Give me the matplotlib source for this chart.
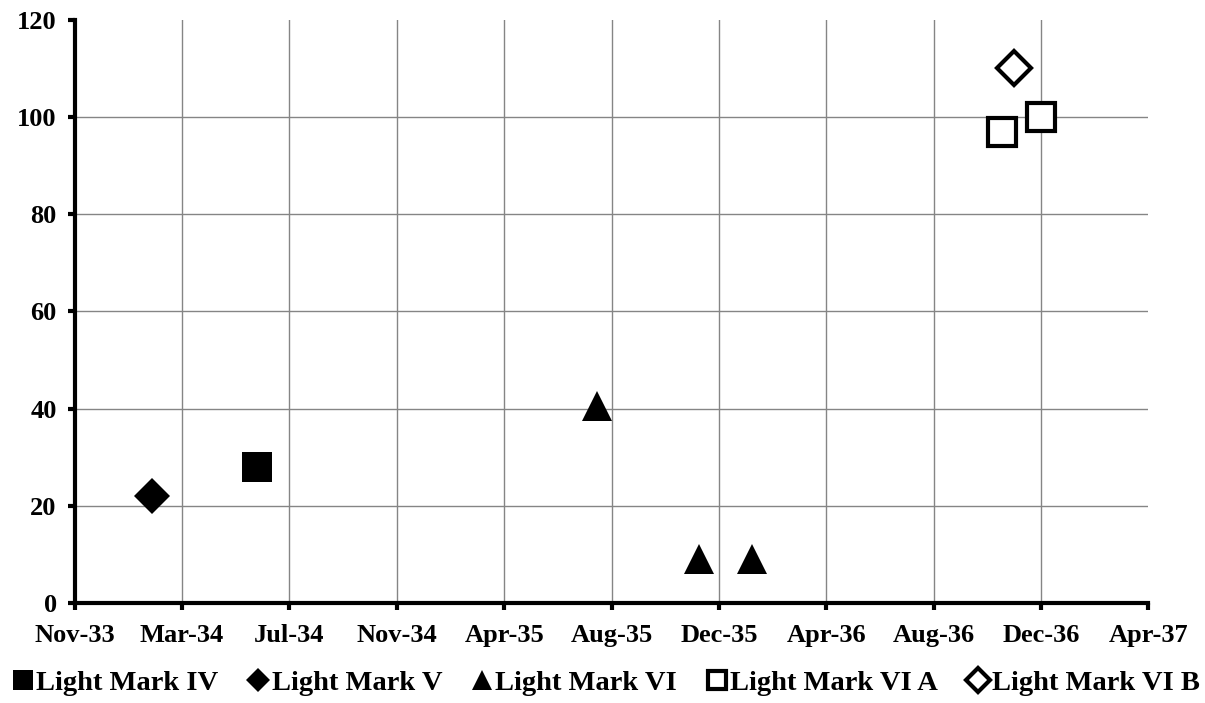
import datetime as dt

import matplotlib
matplotlib.use("Agg")
import matplotlib.pyplot as plt
import matplotlib.dates as mdates

# ------------------- data -------------------
mark_iv_dates = [dt.date(1934, 6, 20)]
mark_iv_vals = [28]

mark_v_dates = [dt.date(1934, 2, 18)]
mark_v_vals = [22]

mark_vi_dates = [dt.date(1935, 7, 21), dt.date(1935, 11, 17), dt.date(1936, 1, 17)]
mark_vi_vals = [40.5, 9, 9]

mark_via_dates = [dt.date(1936, 11, 4), dt.date(1936, 12, 19)]
mark_via_vals = [97, 100]

mark_vib_dates = [dt.date(1936, 11, 18)]
mark_vib_vals = [110]

# date axis: 125-day major unit starting Nov 1933
axis_start = dt.date(1933, 11, 20)
axis_step_days = 125
n_steps = 10

plt.rcParams['font.family'] = ['Liberation Serif', 'DejaVu Serif']
plt.rcParams['font.weight'] = 'bold'

fig = plt.figure(figsize=(12.05, 7.03), dpi=100)
ax = fig.add_axes([0.062, 0.142, 0.891, 0.830])

series = [
    ("Light Mark IV", mark_iv_dates, mark_iv_vals,
     dict(marker='s', ms=22, mfc='black', mec='black', mew=0)),
    ("Light Mark V", mark_v_dates, mark_v_vals,
     dict(marker='D', ms=18.5, mfc='black', mec='black', mew=0)),
    ("Light Mark VI", mark_vi_dates, mark_vi_vals,
     dict(marker='^', ms=21.5, mfc='black', mec='black', mew=0)),
    ("Light Mark VI A", mark_via_dates, mark_via_vals,
     dict(marker='s', ms=19.5, mfc='white', mec='black', mew=3)),
    ("Light Mark VI B", mark_vib_dates, mark_vib_vals,
     dict(marker='D', ms=17.5, mfc='white', mec='black', mew=3)),
]

for label, xs, ys, style in series:
    ax.plot(xs, ys, linestyle='none', label=label, zorder=3, **style)

# axes
x0 = mdates.date2num(axis_start)
xticks = [x0 + i * axis_step_days for i in range(n_steps + 1)]
ax.set_xlim(xticks[0], xticks[-1])
ax.set_xticks(xticks)
ax.xaxis.set_major_formatter(mdates.DateFormatter('%b-%y'))
ax.set_ylim(0, 120)
ax.set_yticks(range(0, 121, 20))

for side in ('top', 'right'):
    ax.spines[side].set_visible(False)
for side in ('left', 'bottom'):
    ax.spines[side].set_linewidth(3)
    ax.spines[side].set_capstyle('projecting')

ax.tick_params(axis='both', direction='out', length=5, width=3, labelsize=19)
ax.tick_params(axis='x', pad=10)
ax.tick_params(axis='y', pad=8)
for lab in ax.get_xticklabels() + ax.get_yticklabels():
    lab.set_fontweight('bold')

ax.grid(True, color='#858585', linewidth=1.0)
ax.set_axisbelow(True)
# no gridline on the outer edges of the plot area
ax.yaxis.get_gridlines()[-1].set_visible(False)
ax.yaxis.get_gridlines()[0].set_visible(False)
ax.xaxis.get_gridlines()[0].set_visible(False)
ax.xaxis.get_gridlines()[-1].set_visible(False)

fig.legend(loc='center', bbox_to_anchor=(0.503, 0.029), ncol=5, frameon=False,
           markerscale=0.68, handlelength=0.7, handletextpad=0.12,
           columnspacing=1.05, prop={'size': 20.5, 'weight': 'bold'},
           borderaxespad=0)

fig.savefig('out.png', dpi=100)
